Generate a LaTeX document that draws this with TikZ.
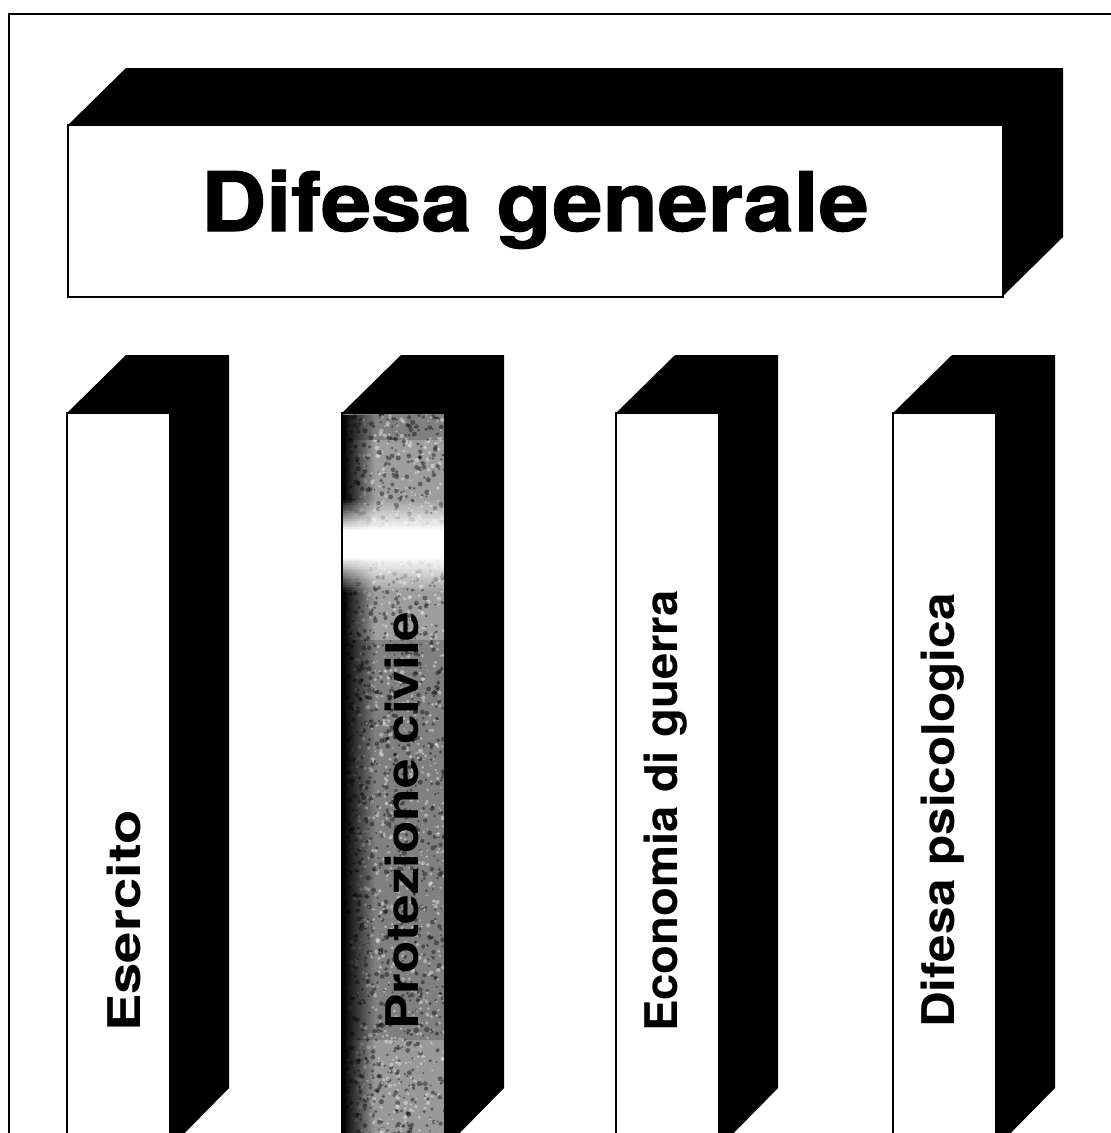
\documentclass[tikz,border=0pt]{standalone}
\usepackage{fontspec}
\setmainfont{TeX Gyre Heros}
\newfontfamily\heavyfam[BoldFeatures={FakeBold=1.4}]{TeX Gyre Heros}
\usetikzlibrary{fadings}
\tikzfading[name=fadeR, left color=transparent!0, right color=transparent!100]
\begin{document}
\begin{tikzpicture}[x=1pt,y=-1pt,
  solid3d/.style={fill=black},
  face/.style={fill=white,draw=black,line width=2pt},
  frameline/.style={line width=2.5pt},
  titlefont/.style={font=\fontsize{82}{82}\selectfont\heavyfam\bfseries},
  colfont/.style={font=\fontsize{45}{45}\selectfont\bfseries, rotate=90, anchor=base west, inner sep=0pt}]
\useasboundingbox (0,0) rectangle (1111,1133);
\fill[white] (0,0) rectangle (1111,1133);
% outer frame (cut at right and bottom)
\draw[frameline] (9,1140) -- (9,14) -- (1120,14);
% top beam
\fill[solid3d] (68,125) -- (126,68) -- (1063,68) -- (1063,237) -- (1003,296) -- (1003,125) -- cycle;
\draw[face] (68,125) rectangle (1003,297);
\node[titlefont, anchor=base, inner sep=0pt] (title) at (535,231) {\scalebox{1.1}[1]{Difesa generale}};
% pillars
\foreach \px in {67,342,616,893}{
  \fill[solid3d] (\px,413) -- (\px+59,355) -- (\px+162,355) -- (\px+162,1088) -- (\px+103,1148) -- (\px+103,413) -- cycle;
  \draw[face] (\px,1150) -- (\px,413) -- (\px+103,413) -- (\px+103,1150);
}
% textured pillar 2
\begin{scope}
  \clip (343,414) rectangle (444,1140);
  \fill[black!50] (343,414) rectangle (444,1140);
  \fill[black!38] (343,440) rectangle (444,640);
  \fill[black!40] (343,1040) rectangle (444,1140);
  \pgfmathsetseed{7}
  \foreach \i in {1,...,1300}{
    \pgfmathsetmacro\xx{343+101*rnd}
    \pgfmathsetmacro\yy{414+726*rnd}
    \pgfmathsetmacro\rr{1+1.6*rnd}
    \fill[black, opacity=0.4] (\xx,\yy) circle (\rr);
  }
  \foreach \i in {1,...,1100}{
    \pgfmathsetmacro\xx{343+101*rnd}
    \pgfmathsetmacro\yy{414+726*rnd}
    \pgfmathsetmacro\rr{0.8+1.4*rnd}
    \fill[white, opacity=0.4] (\xx,\yy) circle (\rr);
  }
  \fill[black, path fading=fadeR] (343,414) rectangle (375,1140);
  % bright band with soft edges
  \foreach \k in {0,...,19}{
    \fill[white, opacity={(\k+1)/20}] (343,{500+1.6*\k}) rectangle (444,{500+1.6*(\k+1)});
    \fill[white, opacity={1-\k/20}] (343,{556+1.8*\k}) rectangle (444,{556+1.8*(\k+1)});
  }
  \fill[white] (343,531) rectangle (444,557);
\end{scope}
\draw[line width=2pt] (342,1150) -- (342,413);
% column labels
\node[colfont] (c1) at (140,1032) {\scalebox{1.25}[1]{Esercito}};
\node[colfont] (c2) at (418,1030) {\scalebox{1.18}[1]{Protezione civile}};
\node[colfont] (c3) at (677,1032) {\scalebox{1.05}[1]{Economia di guerra}};
\node[colfont] (c4) at (954,1028) {\scalebox{1.1}[1]{Difesa psicologica}};
\end{tikzpicture}
\end{document}
